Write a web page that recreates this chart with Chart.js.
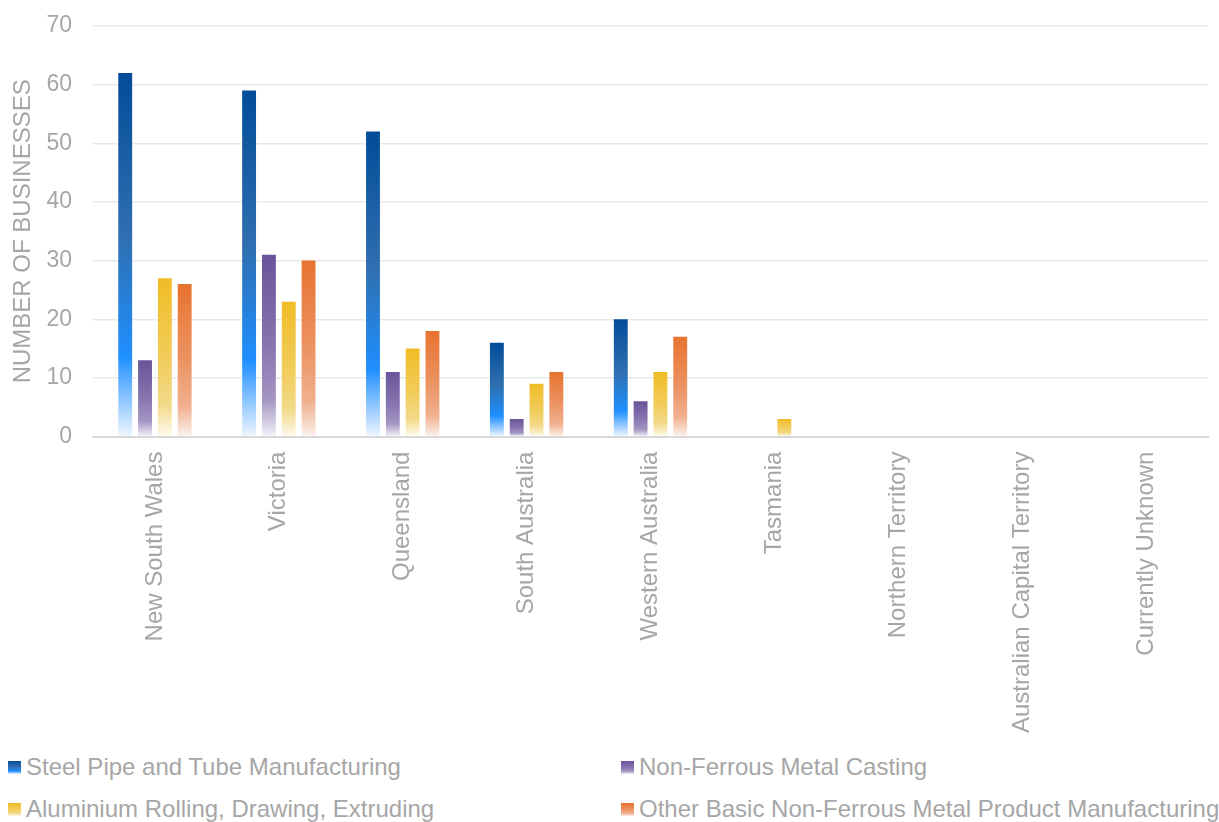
<!DOCTYPE html>
<html>
<head>
<meta charset="utf-8">
<script src="https://cdn.jsdelivr.net/npm/chart.js@4/dist/chart.umd.min.js"></script>
<style>
  html, body { margin: 0; padding: 0; background: #ffffff; }
  #wrap { position: relative; width: 1219px; height: 822px; overflow: hidden; font-family: "Liberation Sans", Arial, sans-serif; }
  #chartBox { position: absolute; left: 0; top: 0; width: 1219px; height: 748px; }
  #legend { position: absolute; left: 0; top: 750px; width: 1219px; }
  .item { position: absolute; display: flex; align-items: center; height: 34px; font-size: 24px; color: #A6A6A6; white-space: nowrap; }
  .swatch { width: 13px; height: 13px; margin-right: 5px; }
</style>
</head>
<body>
<div id="wrap">
  <div id="chartBox"><canvas id="chart"></canvas></div>
  <div id="legend"></div>
</div>
<script>
// Businesses by state, per industry class
const states = ["New South Wales", "Victoria", "Queensland", "South Australia", "Western Australia",
                "Tasmania", "Northern Territory", "Australian Capital Territory", "Currently Unknown"];
const steelPipe       = [62, 59, 52, 16, 20, 0, 0, 0, 0];
const nonFerrousCast  = [13, 31, 11, 3, 6, 0, 0, 0, 0];
const aluminium       = [27, 23, 15, 9, 11, 3, 0, 0, 0];
const otherNonFerrous = [26, 30, 18, 11, 17, 0, 0, 0, 0];
const yTicks = [0, 10, 20, 30, 40, 50, 60, 70];

// gradient stops per series: [offset, colour] from bar top to bar base
const fills = {
  blue:   [[0, "#034C99"], [0.45, "#2F6FB0"], [0.78, "#1F8FFF"], [1, "#EEF6FF"]],
  purple: [[0, "#69549A"], [0.5, "#8874AF"], [0.8, "#A496C3"], [1, "#F4F2F8"]],
  yellow: [[0, "#F0BD27"], [0.5, "#F1CC5A"], [0.8, "#F3DA8A"], [1, "#FEFAEE"]],
  orange: [[0, "#E87330"], [0.5, "#EC9362"], [0.8, "#F0B08E"], [1, "#FCF1EC"]]
};

function barGradient(stops) {
  return function (ctx) {
    const chart = ctx.chart;
    if (ctx.type !== 'data' || !chart.chartArea) return stops[0][1];
    const y = chart.scales.y;
    const top = y.getPixelForValue(ctx.raw);
    const base = y.getPixelForValue(0);
    if (!(base - top > 0.5)) return stops[0][1];
    const g = chart.ctx.createLinearGradient(0, top, 0, base);
    stops.forEach(s => g.addColorStop(s[0], s[1]));
    return g;
  };
}

const series = [
  { label: "Steel Pipe and Tube Manufacturing", data: steelPipe, fill: fills.blue },
  { label: "Non-Ferrous Metal Casting", data: nonFerrousCast, fill: fills.purple },
  { label: "Aluminium Rolling, Drawing, Extruding", data: aluminium, fill: fills.yellow },
  { label: "Other Basic Non-Ferrous Metal Product Manufacturing", data: otherNonFerrous, fill: fills.orange }
];

const grey = "#A6A6A6";
const family = "'Liberation Sans', Arial, sans-serif";

const chart = new Chart(document.getElementById('chart'), {
  type: 'bar',
  data: {
    labels: states,
    datasets: series.map(s => ({
      label: s.label,
      data: s.data,
      backgroundColor: barGradient(s.fill),
      borderWidth: 0,
      categoryPercentage: 0.64,
      barPercentage: 0.7
    }))
  },
  options: {
    responsive: true,
    maintainAspectRatio: false,
    animation: false,
    layout: { padding: { top: 0, right: 11, left: 0, bottom: 0 } },
    plugins: { legend: { display: false }, tooltip: { enabled: false } },
    scales: {
      x: {
        grid: { display: false, drawTicks: false },
        border: { display: true, color: "#D9D9D9", width: 2 },
        ticks: { color: grey, font: { family, size: 24 }, minRotation: 90, maxRotation: 90, padding: 15, autoSkip: false }
      },
      y: {
        min: 0, max: 70,
        afterBuildTicks: axis => { axis.ticks = yTicks.map(v => ({ value: v })); },
        afterFit: axis => { axis.width = 93; axis.paddingTop = 26; },
        grid: { color: "#E9E9E9", lineWidth: 1.5, drawTicks: false },
        border: { display: false },
        ticks: { color: grey, font: { family, size: 23 }, padding: 21 },
        title: { display: true, text: "NUMBER OF BUSINESSES", color: grey, font: { family, size: 24 }, padding: { top: 9, bottom: 8 } }
      }
    }
  }
});

// two-column legend under the chart
const legend = document.getElementById('legend');
series.forEach((s, i) => {
  const el = document.createElement('div');
  el.className = 'item';
  el.style.left = (i % 2 === 0 ? 8 : 621) + 'px';
  el.style.top = (i < 2 ? 0 : 42) + 'px';
  const sw = document.createElement('span');
  sw.className = 'swatch';
  sw.style.background = 'linear-gradient(to bottom,' + s.fill.map(st => st[1] + ' ' + (st[0] * 100) + '%').join(',') + ')';
  const tx = document.createElement('span');
  tx.textContent = s.label;
  el.appendChild(sw);
  el.appendChild(tx);
  legend.appendChild(el);
});
</script>
</body>
</html>
